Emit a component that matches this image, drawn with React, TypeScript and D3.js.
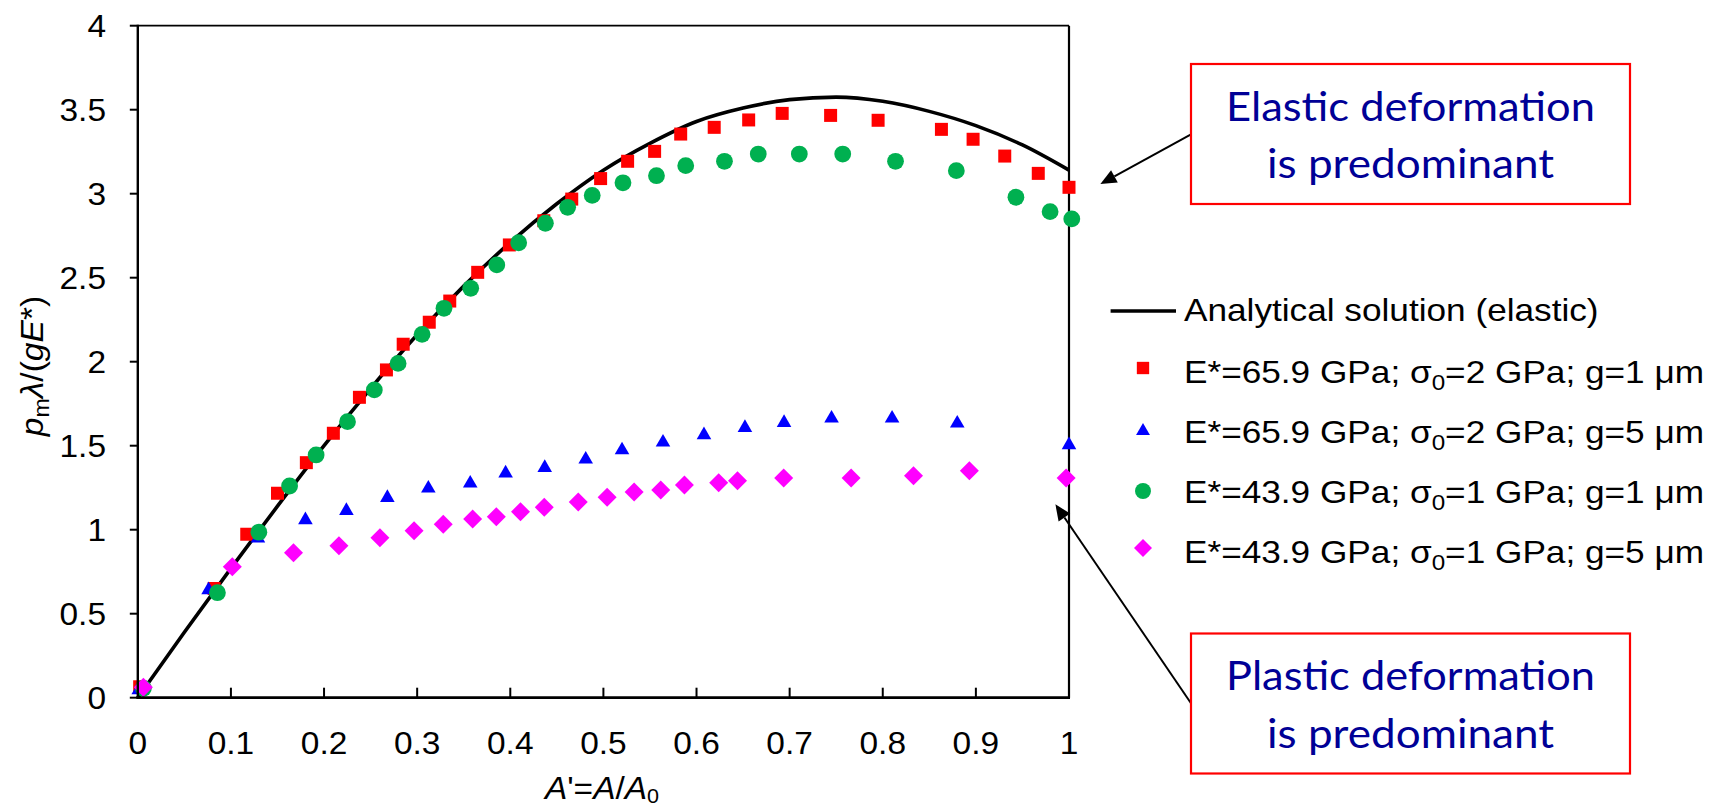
import React from 'react';
import * as d3 from 'd3';

// ---------- data ----------
const xTicks = [0, 0.1, 0.2, 0.3, 0.4, 0.5, 0.6, 0.7, 0.8, 0.9, 1];
const xTickLabels = ['0', '0.1', '0.2', '0.3', '0.4', '0.5', '0.6', '0.7', '0.8', '0.9', '1'];
const yTicks = [0, 0.5, 1, 1.5, 2, 2.5, 3, 3.5, 4];
const yTickLabels = ['0', '0.5', '1', '1.5', '2', '2.5', '3', '3.5', '4'];

// analytical (elastic) curve
const curveX = [0, 0.05, 0.1, 0.15, 0.2, 0.25, 0.3, 0.35, 0.4, 0.45, 0.5, 0.55, 0.6, 0.65, 0.7, 0.75, 0.8, 0.85, 0.9, 0.95, 1];
const curveY = [0, 0.39, 0.77, 1.14, 1.5, 1.84, 2.16, 2.45, 2.71, 2.94, 3.14, 3.3, 3.43, 3.51, 3.56, 3.575, 3.55, 3.49, 3.405, 3.29, 3.14];

// E*=65.9 GPa; σ0=2 GPa; g=1 μm  (red squares)
const redX = [0.002, 0.082, 0.117, 0.15, 0.181, 0.21, 0.238, 0.267, 0.285, 0.313, 0.335, 0.365, 0.399, 0.436, 0.466, 0.497, 0.526, 0.555, 0.583, 0.619, 0.656, 0.692, 0.744, 0.795, 0.863, 0.897, 0.931, 0.967, 1.0];
const redY = [0.065, 0.65, 0.973, 1.217, 1.399, 1.574, 1.788, 1.951, 2.104, 2.235, 2.361, 2.532, 2.695, 2.839, 2.968, 3.09, 3.193, 3.252, 3.355, 3.395, 3.439, 3.478, 3.466, 3.437, 3.383, 3.324, 3.224, 3.121, 3.038];

// E*=65.9 GPa; σ0=2 GPa; g=5 μm  (blue triangles)
const blueX = [0.001, 0.076, 0.129, 0.18, 0.224, 0.268, 0.312, 0.357, 0.395, 0.437, 0.481, 0.52, 0.564, 0.608, 0.652, 0.694, 0.745, 0.81, 0.88, 1.0];
const blueY = [0.046, 0.641, 0.949, 1.058, 1.113, 1.19, 1.246, 1.276, 1.336, 1.369, 1.419, 1.474, 1.52, 1.564, 1.607, 1.637, 1.663, 1.663, 1.633, 1.504];

// E*=43.9 GPa; σ0=1 GPa; g=1 μm  (green circles)
const greenX = [0.006, 0.0855, 0.13, 0.163, 0.1915, 0.2252, 0.254, 0.2795, 0.3053, 0.3288, 0.3575, 0.3855, 0.409, 0.4377, 0.4616, 0.488, 0.521, 0.557, 0.5884, 0.63, 0.6663, 0.7104, 0.757, 0.8137, 0.879, 0.943, 0.9797, 1.003];
const greenY = [0.056, 0.625, 0.985, 1.26, 1.445, 1.643, 1.832, 1.99, 2.163, 2.318, 2.437, 2.576, 2.708, 2.824, 2.919, 2.99, 3.065, 3.107, 3.167, 3.193, 3.236, 3.236, 3.236, 3.193, 3.137, 2.979, 2.893, 2.85];

// E*=43.9 GPa; σ0=1 GPa; g=5 μm  (magenta diamonds)
const magX = [0.006, 0.1015, 0.1672, 0.216, 0.26, 0.2967, 0.328, 0.3596, 0.385, 0.411, 0.4365, 0.473, 0.504, 0.533, 0.5616, 0.587, 0.6238, 0.644, 0.6936, 0.766, 0.833, 0.893, 0.9969];
const magY = [0.062, 0.78, 0.863, 0.905, 0.952, 0.994, 1.032, 1.064, 1.077, 1.107, 1.133, 1.165, 1.193, 1.224, 1.236, 1.266, 1.28, 1.292, 1.308, 1.308, 1.321, 1.351, 1.308];

const legendLabels = [
  'Analytical solution (elastic)',
  'E*=65.9 GPa; σ0=2 GPa; g=1 μm',
  'E*=65.9 GPa; σ0=2 GPa; g=5 μm',
  'E*=43.9 GPa; σ0=1 GPa; g=1 μm',
  'E*=43.9 GPa; σ0=1 GPa; g=5 μm',
];

const elasticNote = ['Elastic deformation', 'is predominant'];
const plasticNote = ['Plastic deformation', 'is predominant'];

// ---------- layout ----------
const W = 1720;
const H = 810;
const X0 = 137.8;
const X1 = 1069;
const Y0 = 697.7;
const Y1 = 25.7;
const FONT = '"Liberation Sans", Arial, sans-serif';
const NOTE_FONT = 'Lato, "Open Sans", sans-serif';
const NAVY = '#000096';

const RED = '#FF0000';
const BLUE = '#0000FF';
const GREEN = '#00B050';
const MAG = '#FF00FF';

const x = d3.scaleLinear().domain([0, 1]).range([X0, X1]);
const y = d3.scaleLinear().domain([0, 4]).range([Y0, Y1]);

const sq = d3.symbol().type(d3.symbolSquare).size(169)()!;
const circ = d3.symbol().type(d3.symbolCircle).size(Math.PI * 8.4 * 8.4)()!;
const tri = d3.symbol().type(d3.symbolTriangle).size(92)()!;
const dia = d3.symbol().type(d3.symbolSquare).size(180)()!;

type Shape = { path: string; rot: number; color: string };
const shapes: Shape[] = [
  { path: sq, rot: 0, color: RED },
  { path: tri, rot: 0, color: BLUE },
  { path: circ, rot: 0, color: GREEN },
  { path: dia, rot: 45, color: MAG },
];
const seriesX = [redX, blueX, greenX, magX];
const seriesY = [redY, blueY, greenY, magY];

const line = d3
  .line<number>()
  .x((_, i) => x(curveX[i]))
  .y((d) => y(d))
  .curve(d3.curveMonotoneX);

function LegendLabel({ label, tx, ty }: { label: string; tx: number; ty: number }) {
  const parts = label.split('σ0');
  return (
    <text
      transform={`translate(${tx},${ty}) scale(1.1,1)`}
      fontFamily={FONT}
      fontSize={32}
      fill="#000"
    >
      {parts.length === 1 ? (
        label
      ) : (
        <>
          <tspan>{parts[0]}σ</tspan>
          <tspan fontSize={22} dy={7}>0</tspan>
          <tspan dy={-7}>{parts[1]}</tspan>
        </>
      )}
    </text>
  );
}

function Arrow({ x1, y1, x2, y2 }: { x1: number; y1: number; x2: number; y2: number }) {
  const ang = Math.atan2(y2 - y1, x2 - x1);
  const L = 16;
  const Wd = 7;
  const bx = x2 - L * Math.cos(ang);
  const by = y2 - L * Math.sin(ang);
  const px = -Math.sin(ang) * Wd;
  const py = Math.cos(ang) * Wd;
  return (
    <g>
      <line x1={x1} y1={y1} x2={bx} y2={by} stroke="#000" strokeWidth={2} />
      <path d={`M${x2},${y2}L${bx + px},${by + py}L${bx - px},${by - py}Z`} fill="#000" />
    </g>
  );
}

function NoteBox({ lines, top }: { lines: string[]; top: number }) {
  const bx = 1191;
  const bw = 439;
  const bh = 140;
  const cx = bx + bw / 2;
  return (
    <g>
      <rect x={bx} y={top} width={bw} height={bh} fill="#fff" stroke="#FF0000" strokeWidth={2.2} />
      <text x={cx} y={top + 56.5} textAnchor="middle" fontFamily={NOTE_FONT} fontSize={41} fill={NAVY} textLength={369} lengthAdjust="spacingAndGlyphs">
        {lines[0]}
      </text>
      <text x={cx} y={top + 114} textAnchor="middle" fontFamily={NOTE_FONT} fontSize={41} fill={NAVY} textLength={287} lengthAdjust="spacingAndGlyphs">
        {lines[1]}
      </text>
    </g>
  );
}

export default function App() {
  const legendRows = [321, 383, 443, 503, 563];
  const legendMarkerY = [311, 368, 431, 491, 548];
  return (
    <svg
      width={W}
      height={H}
      viewBox={`0 0 ${W} ${H}`}
      style={{ position: 'absolute', left: 0, top: 0, background: '#fff' }}
    >
      <rect x={0} y={0} width={W} height={H} fill="#fff" />

      {/* frame */}
      <line x1={X0} y1={Y1} x2={X1} y2={Y1} stroke="#000" strokeWidth={1.8} />
      <line x1={X1} y1={Y1} x2={X1} y2={Y0} stroke="#000" strokeWidth={2.2} />

      {/* analytical curve */}
      <path d={line(curveY) || ''} fill="none" stroke="#000" strokeWidth={3.6} />

      {/* markers */}
      {shapes.map((s, si) => (
        <g key={si}>
          {seriesX[si].map((vx, i) => (
            <path
              key={i}
              d={s.path}
              fill={s.color}
              transform={`translate(${x(vx)},${y(seriesY[si][i])}) rotate(${s.rot})`}
            />
          ))}
        </g>
      ))}

      {/* axes */}
      <line x1={X0} y1={Y1 - 1} x2={X0} y2={Y0 + 1.3} stroke="#000" strokeWidth={2.4} />
      <line x1={X0 - 1.2} y1={Y0} x2={X1 + 1} y2={Y0} stroke="#000" strokeWidth={2.8} />

      {yTicks.map((t, i) => (
        <g key={'y' + i}>
          <line x1={X0 - 8} x2={X0} y1={y(t)} y2={y(t)} stroke="#000" strokeWidth={2} />
          <text
            transform={`translate(106,${y(t)}) scale(1.08,1)`}
            dy="0.36em"
            textAnchor="end"
            fontFamily={FONT}
            fontSize={31}
            fill="#000"
          >
            {yTickLabels[i]}
          </text>
        </g>
      ))}
      {xTicks.map((t, i) => (
        <g key={'x' + i}>
          {i > 0 && i < xTicks.length - 1 && (
            <line x1={x(t)} x2={x(t)} y1={Y0} y2={Y0 - 10} stroke="#000" strokeWidth={2} />
          )}
          <text
            transform={`translate(${x(t)},754) scale(1.08,1)`}
            textAnchor="middle"
            fontFamily={FONT}
            fontSize={31}
            fill="#000"
          >
            {xTickLabels[i]}
          </text>
        </g>
      ))}

      {/* axis titles */}
      <text
        transform="translate(602,799) scale(1.08,1)"
        textAnchor="middle"
        fontFamily={FONT}
        fontSize={31}
        fill="#000"
      >
        <tspan fontStyle="italic">A</tspan>
        <tspan>'=</tspan>
        <tspan fontStyle="italic">A</tspan>
        <tspan>/</tspan>
        <tspan fontStyle="italic">A</tspan>
        <tspan fontSize={20} dy={4}>0</tspan>
      </text>
      <text
        transform={`translate(43,366) rotate(-90) scale(1.05,1)`}
        textAnchor="middle"
        fontFamily={FONT}
        fontSize={32}
        fill="#000"
      >
        <tspan fontStyle="italic">p</tspan>
        <tspan fontSize={22} dy={6}>m</tspan>
        <tspan fontStyle="italic" dy={-6}>λ</tspan>
        <tspan>/(</tspan>
        <tspan fontStyle="italic">gE</tspan>
        <tspan>*)</tspan>
      </text>

      {/* legend */}
      <line x1={1110.6} x2={1176} y1={legendMarkerY[0]} y2={legendMarkerY[0]} stroke="#000" strokeWidth={3.6} />
      {shapes.map((s, si) => (
        <path
          key={'lm' + si}
          d={s.path}
          fill={s.color}
          transform={`translate(1143,${legendMarkerY[si + 1]}) rotate(${s.rot}) scale(0.95)`}
        />
      ))}
      {legendLabels.map((lab, i) => (
        <LegendLabel key={'ll' + i} label={lab} tx={1184} ty={legendRows[i]} />
      ))}

      {/* annotations */}
      <Arrow x1={1191} y1={134.3} x2={1100.4} y2={184} />
      <NoteBox lines={elasticNote} top={64} />
      <Arrow x1={1191} y1={703.3} x2={1055.4} y2={504.3} />
      <NoteBox lines={plasticNote} top={633.5} />
    </svg>
  );
}
